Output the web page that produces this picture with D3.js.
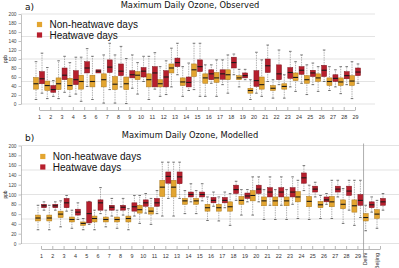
<!DOCTYPE html>
<html>
<head>
<meta charset="utf-8">
<script src="https://cdn.jsdelivr.net/npm/d3@7"></script>
<style>
  body { margin: 0; background: #fff; }
  svg { display: block; }
</style>
</head>
<body>
<svg width="399" height="268"></svg>
<script>
// values are [whisker low, q1, median, q3, whisker high] in ppb
const stations = d3.range(1, 30).map(String);
const stationsModel = stations.concat(["Delhi", "Beijing"]);

const obsNonHeat = [
  [10, 33, 45, 59, 94], [12, 30, 41, 51, 81], [12, 32, 45, 58, 96], [17, 32, 41, 57, 92],
  [6, 33, 50, 64, 104], [10, 38, 50, 64, 106], [2, 38, 54, 67, 109], [2, 32, 44, 61, 109],
  [1, 32, 45, 60, 101], [22, 54, 64, 72, 92], [10, 38, 54, 67, 106], [17, 38, 45, 54, 83],
  [38, 69, 80, 89, 124], [17, 41, 49, 58, 83], [32, 61, 76, 89, 135], [17, 46, 58, 67, 87],
  [17, 48, 58, 70, 98], [24, 54, 65, 76, 109], [38, 54, 58, 63, 77], [10, 24, 30, 35, 54],
  [17, 33, 43, 60, 98], [13, 30, 35, 41, 54], [13, 33, 39, 45, 65], [28, 52, 59, 69, 94],
  [21, 46, 54, 63, 87], [28, 50, 58, 67, 83], [30, 41, 50, 58, 83], [23, 41, 49, 58, 83],
  [12, 41, 51, 63, 94]
];
const obsHeat = [
  [24, 45, 56, 72, 113], [17, 26, 32, 41, 52], [26, 54, 64, 80, 106], [22, 43, 54, 74, 104],
  [39, 69, 80, 94, 123], [69, 69, 73, 76, 76], [32, 70, 82, 98, 135], [38, 63, 73, 89, 128],
  [35, 58, 65, 74, 109], [50, 60, 73, 81, 106], [33, 38, 69, 83, 114], [21, 38, 60, 74, 96],
  [65, 83, 92, 102, 135], [30, 38, 48, 60, 91], [17, 72, 83, 98, 135], [46, 54, 67, 76, 87],
  [43, 55, 67, 76, 98], [65, 80, 92, 104, 111], [54, 58, 63, 69, 77], [24, 39, 52, 74, 115],
  [50, 70, 85, 100, 131], [43, 54, 67, 87, 120], [38, 57, 70, 81, 117], [46, 66, 75, 83, 109],
  [43, 61, 69, 75, 91], [50, 61, 75, 86, 120], [38, 50, 57, 65, 76], [43, 56, 63, 72, 83],
  [46, 63, 71, 80, 89]
];
const modNonHeat = [
  [28, 46, 52, 58, 78], [28, 46, 52, 58, 78], [34, 53, 60, 66, 87], [31, 44, 49, 54, 68],
  [28, 37, 41, 44, 51], [28, 44, 51, 56, 68], [34, 44, 49, 54, 68], [31, 44, 49, 54, 68],
  [28, 44, 51, 56, 71], [41, 62, 69, 78, 98], [39, 60, 66, 73, 92], [56, 96, 115, 129, 166],
  [56, 95, 115, 129, 166], [61, 80, 87, 92, 108], [61, 80, 87, 92, 108], [47, 66, 73, 80, 95],
  [46, 66, 73, 80, 95], [37, 66, 75, 85, 102], [58, 80, 88, 96, 110], [58, 87, 98, 108, 136],
  [49, 77, 87, 95, 110], [49, 77, 87, 95, 110], [49, 77, 87, 95, 110], [51, 85, 95, 106, 129],
  [49, 75, 86, 96, 119], [51, 73, 79, 86, 98], [51, 75, 85, 96, 129], [41, 71, 80, 89, 112],
  [37, 64, 77, 89, 129], [26, 46, 53, 61, 78], [31, 51, 60, 69, 88]
];
const modHeat = [
  [68, 73, 77, 80, 85], [68, 73, 77, 80, 85], [66, 73, 83, 92, 98], [49, 58, 64, 70, 83],
  [39, 42, 61, 85, 86], [61, 68, 83, 89, 114], [56, 68, 74, 78, 92], [58, 68, 74, 78, 92],
  [56, 66, 75, 83, 98], [62, 76, 83, 89, 102], [61, 76, 83, 92, 108], [92, 123, 137, 146, 166],
  [92, 122, 136, 146, 166], [85, 95, 100, 105, 122], [87, 95, 100, 105, 122], [76, 83, 88, 94, 105],
  [73, 83, 88, 94, 105], [88, 102, 110, 119, 127], [85, 92, 97, 103, 110], [85, 102, 111, 119, 136],
  [78, 95, 105, 114, 136], [78, 95, 105, 114, 136], [80, 95, 105, 114, 136], [108, 123, 134, 144, 159],
  [95, 105, 111, 117, 125], [80, 85, 89, 95, 102], [95, 105, 111, 117, 129], [68, 98, 107, 117, 129],
  [53, 78, 88, 100, 129], [64, 73, 79, 85, 95], [68, 78, 85, 92, 102]
];

const yTicks = d3.range(0, 201, 20);
const gridTicks = [0, 50, 100, 150, 200];
const legendLabels = ["Non-heatwave days", "Heatwave days"];
const colors = { fill: ["#e3a530", "#b71f2d"], stroke: ["#a9771c", "#7c141e"] };

let svg = d3.select("svg");

function panel(opts) {
  let g = svg.append("g");
  let x = d3.scalePoint().domain(opts.cats).range(opts.xRange);
  let y = d3.scaleLinear().domain([0, 200]).range(opts.yRange);

  // grid
  g.append("g")
    .selectAll("line")
    .data(gridTicks)
    .join("line")
    .attr("x1", 21)
    .attr("x2", opts.gridEnd)
    .attr("y1", (d) => y(d))
    .attr("y2", (d) => y(d))
    .style("stroke", "#dcdcdc")
    .style("stroke-width", 0.8);

  // y axis
  let ya = g.append("g")
    .attr("transform", "translate(21,0)")
    .call(d3.axisLeft(y).tickValues(yTicks).tickSize(2.5).tickSizeOuter(0).tickPadding(2));
  ya.select(".domain").style("stroke", "#999").style("stroke-width", 0.6);
  ya.selectAll(".tick line").style("stroke", "#999").style("stroke-width", 0.6);
  ya.selectAll("text").style("font", "4.8px 'Liberation Sans', Arial, sans-serif").style("fill", "#444");

  g.append("text")
    .attr("transform", `translate(7,${(opts.yRange[0] + opts.yRange[1]) / 2}) rotate(-90)`)
    .attr("text-anchor", "middle")
    .style("font", "4.8px 'Liberation Sans', Arial, sans-serif")
    .style("fill", "#333")
    .text("ppb");

  // x axis
  let xa = g.append("g")
    .attr("transform", `translate(0,${opts.axisY})`)
    .call(d3.axisBottom(x).tickSize(-3).tickSizeOuter(0).tickPadding(5));
  xa.select(".domain").style("stroke", "#888").style("stroke-width", 0.6);
  xa.selectAll(".tick line").style("stroke", "#888").style("stroke-width", 0.6);
  xa.selectAll("text")
    .style("font", "5.4px 'Liberation Sans', Arial, sans-serif")
    .style("fill", "#333");
  xa.selectAll(".tick text")
    .filter((d) => isNaN(+d))
    .attr("transform", "rotate(-90)")
    .attr("text-anchor", "end")
    .attr("x", -4)
    .attr("y", -2)
    .attr("dy", "0");

  if (opts.divider) {
    let dx = (x("29") + x("Delhi")) / 2 + 0.5;
    g.append("line")
      .attr("x1", dx).attr("x2", dx)
      .attr("y1", opts.yRange[1] - 2).attr("y2", opts.axisY + 8)
      .style("stroke", "#999")
      .style("stroke-width", 0.8);
  }

  // boxes
  [opts.non, opts.heat].forEach((series, si) => {
    let off = si === 0 ? -3 : 3;
    let bw = 5;
    let bg = g.append("g")
      .selectAll("g")
      .data(series.map((v, i) => ({ cat: opts.cats[i], v: v })))
      .join("g")
      .attr("transform", (d) => `translate(${x(d.cat) + off},0)`);

    bg.append("line")
      .attr("y1", (d) => y(d.v[0]))
      .attr("y2", (d) => y(d.v[4]))
      .style("stroke", "#6f6f6f")
      .style("stroke-width", 0.7)
      .style("stroke-dasharray", "0.8,0.9");
    bg.selectAll(".cap")
      .data((d) => (d.v[0] < d.v[1] ? [d.v[0], d.v[4]] : []))
      .join("line")
      .attr("x1", -1.3).attr("x2", 1.3)
      .attr("y1", (d) => y(d)).attr("y2", (d) => y(d))
      .style("stroke", "#555")
      .style("stroke-width", 0.8);
    bg.append("rect")
      .attr("x", -bw / 2)
      .attr("width", bw)
      .attr("y", (d) => y(d.v[3]))
      .attr("height", (d) => y(d.v[1]) - y(d.v[3]))
      .style("fill", colors.fill[si])
      .style("stroke", colors.stroke[si])
      .style("stroke-width", 0.5);
    bg.append("line")
      .attr("x1", -bw / 2).attr("x2", bw / 2)
      .attr("y1", (d) => y(d.v[2])).attr("y2", (d) => y(d.v[2]))
      .style("stroke", "#1a1a1a")
      .style("stroke-width", 1.1);
  });

  // titles
  g.append("text")
    .attr("x", 25).attr("y", opts.labelY)
    .style("font", "9px 'DejaVu Sans', sans-serif")
    .style("fill", "#111")
    .text(opts.label);
  g.append("text")
    .attr("x", 190).attr("y", opts.titleY)
    .attr("text-anchor", "middle")
    .style("font", "8.3px 'DejaVu Sans', sans-serif")
    .style("fill", "#111")
    .text(opts.title);

  // legend
  let lg = g.append("g")
    .selectAll("g")
    .data(legendLabels)
    .join("g")
    .attr("transform", (d, i) => `translate(${opts.legX},${opts.legY + i * 10.5})`);
  lg.append("rect")
    .attr("x", -2.6).attr("y", -2.6)
    .attr("width", 5.2).attr("height", 5.2)
    .style("fill", (d, i) => colors.fill[i]);
  lg.append("text")
    .attr("x", 10).attr("y", 3.6)
    .style("font", "10px 'Liberation Sans', Arial, sans-serif")
    .style("fill", "#111")
    .text((d) => d);
}

panel({
  cats: stations, non: obsNonHeat, heat: obsHeat,
  xRange: [39, 355], yRange: [104, 14], axisY: 110, gridEnd: 375,
  label: "a)", labelY: 10, title: "Maximum Daily Ozone, Observed", titleY: 7.5,
  legX: 39.5, legY: 24.5
});

panel({
  cats: stationsModel, non: modNonHeat, heat: modHeat,
  xRange: [41, 380], yRange: [243.5, 145.5], axisY: 249, gridEnd: 399, divider: true,
  label: "b)", labelY: 141, title: "Maximum Daily Ozone, Modelled", titleY: 137.5,
  legX: 42.8, legY: 156.5
});
</script>
</body>
</html>
